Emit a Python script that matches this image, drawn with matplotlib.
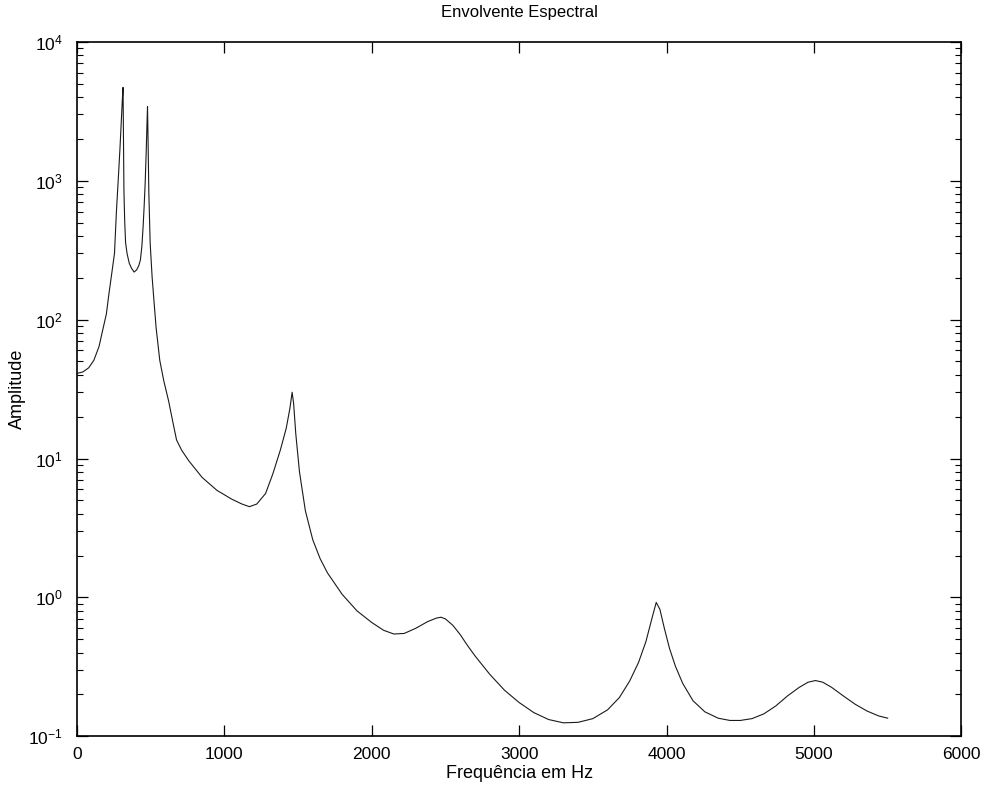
import matplotlib
matplotlib.use("Agg")
import matplotlib.pyplot as plt
from matplotlib.ticker import LogLocator, NullFormatter

# Values (Hz, amplitude)
freq_hz = [0, 40, 80, 115, 150, 176, 200, 216, 235, 255, 268, 280, 292,
           302, 308, 313, 315, 319, 324, 330, 340, 355, 370, 388, 405,
           420, 431, 441, 449, 456, 463, 470, 475, 479, 482, 488, 497,
           510, 522, 537, 562, 590, 622, 650, 676, 710, 760, 850, 950,
           1050, 1120, 1170, 1220, 1280, 1330, 1380, 1420, 1445, 1460,
           1470, 1485, 1510, 1550, 1600, 1650, 1700, 1800, 1900, 2000,
           2080, 2150, 2220, 2300, 2380, 2440, 2470, 2500, 2550, 2600,
           2650, 2700, 2800, 2900, 3000, 3100, 3200, 3300, 3400, 3500,
           3600, 3680, 3750, 3810, 3860, 3900, 3930, 3955, 3985, 4020,
           4060, 4110, 4180, 4260, 4350, 4430, 4500, 4580, 4660, 4740,
           4820, 4900, 4960, 5010, 5060, 5120, 5200, 5280, 5360, 5440, 5500]
amplitude = [41, 42, 45, 51, 64, 85, 110, 150, 210, 300, 600, 1000, 1700,
             2800, 3800, 4700, 2600, 850, 520, 360, 300, 255, 235, 220, 228,
             245, 270, 340, 466, 650, 955, 1600, 2500, 3420, 2200, 815, 355,
             204, 140, 88, 51, 36, 26, 18.5, 13.6, 11.5, 9.6, 7.3, 5.9,
             5.1, 4.7, 4.5, 4.7, 5.6, 7.8, 11.5, 16.5, 23, 30,
             25, 15, 8, 4.2, 2.6, 1.9, 1.5, 1.05, 0.8, 0.66,
             0.58, 0.545, 0.55, 0.6, 0.67, 0.71, 0.72, 0.7, 0.63, 0.54,
             0.45, 0.38, 0.28, 0.215, 0.175, 0.148, 0.132, 0.125, 0.126, 0.134,
             0.155, 0.19, 0.25, 0.34, 0.48, 0.7, 0.92, 0.82, 0.6, 0.43,
             0.32, 0.24, 0.18, 0.15, 0.135, 0.13, 0.13, 0.134, 0.145, 0.165,
             0.195, 0.225, 0.245, 0.252, 0.245, 0.225, 0.195, 0.17, 0.152, 0.14, 0.135]

x_ticks = [0, 1000, 2000, 3000, 4000, 5000, 6000]

plt.rcParams["font.family"] = ["Liberation Sans", "DejaVu Sans"]

fig = plt.figure(figsize=(9.86, 7.90), dpi=100)
ax = fig.add_axes([0.078, 0.068, 0.897, 0.879])

ax.semilogy(freq_hz, amplitude, color="#1a1a1a", linewidth=0.8)

ax.set_xlim(0, 6000)
ax.set_ylim(1e-1, 1e4)
ax.set_xticks(x_ticks)
ax.yaxis.set_major_locator(LogLocator(base=10, numticks=10))
ax.yaxis.set_minor_locator(LogLocator(base=10, subs=range(2, 10), numticks=100))
ax.yaxis.set_minor_formatter(NullFormatter())

ax.tick_params(which="both", direction="in", top=True, right=True, labelsize=12.5)
ax.tick_params(which="major", length=8, width=0.9)
ax.tick_params(which="minor", length=4, width=0.8)
ax.tick_params(axis="x", pad=8)
ax.tick_params(axis="y", pad=10)
for s in ax.spines.values():
    s.set_linewidth(1.2)

ax.set_title("Envolvente Espectral", fontsize=12, pad=18)
ax.set_xlabel("Frequência em Hz", fontsize=13, labelpad=2)
ax.set_ylabel("Amplitude", fontsize=13, labelpad=2)

fig.savefig("out.png", dpi=100)
